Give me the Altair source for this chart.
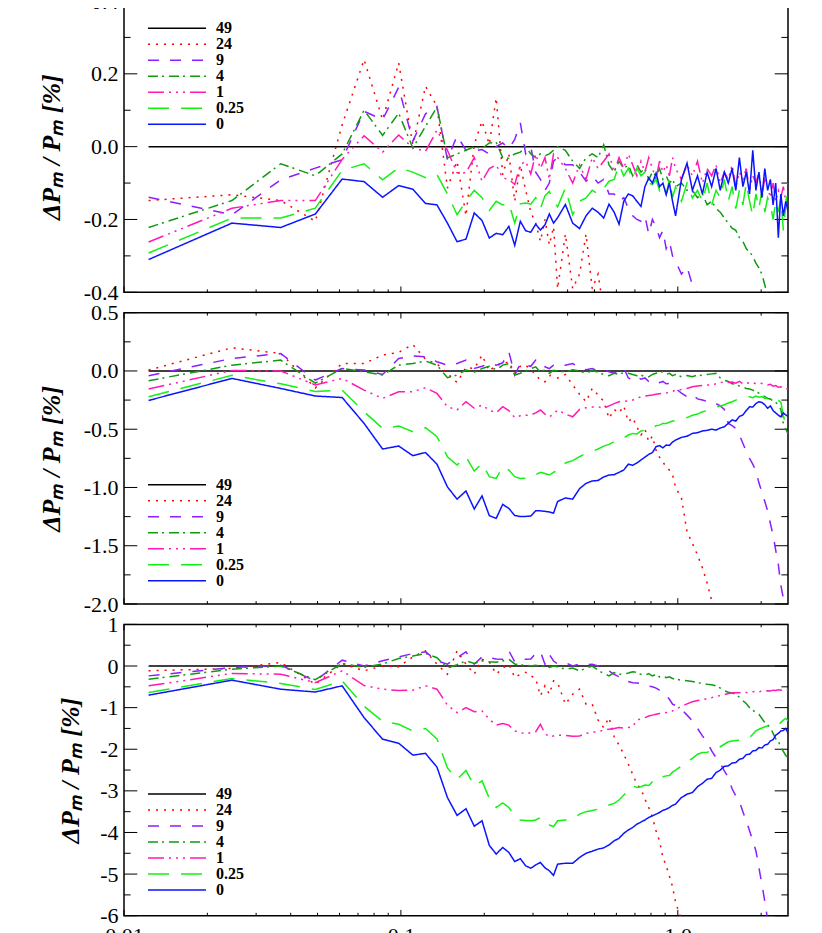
import altair as alt
import pandas as pd

# ---------------- data ----------------
KF = 0.01227  # fundamental wavenumber; x = n * KF
N = list(range(1, 31)) + list(range(32, 81, 2)) + list(range(84, 205, 4))

SERIES = ["49", "24", "9", "4", "1", "0.25", "0"]
COLORS = ["#000000", "#ff0000", "#8c1eff", "#109a10", "#ff1ab4", "#14f014", "#0a14ff"]
DASHES = [[1, 0], [2, 6], [11, 11], [10, 4, 2, 5], [16, 5, 2, 5, 2, 5, 2, 5], [21, 12], [1, 0]]

ZERO_N = [1, 204]
ZERO_V = [0.0, 0.0]

# ---- panel 1 ----
P1_24 = [-0.148, -0.132, -0.148, -0.205, 0.06, 0.239, 0.074, 0.23, 0.005, 0.166,
         0.111, -0.114, -0.04, -0.19, 0.006, 0.07, 0.006, 0.134, -0.077, -0.02,
         -0.15, -0.05, -0.12, -0.18, -0.21, -0.26, -0.20, -0.27, -0.22, -0.39,
         -0.24, -0.39, -0.35, -0.24, -0.39, -0.35, -0.45, -0.6]
P1_9 = [-0.139, -0.187, -0.091, -0.059, -0.036, 0.097, 0.074, 0.163, 0.015, 0.09,
        0.11, -0.036, 0.03, -0.01, -0.012, -0.008, -0.02, 0.0, 0.01, -0.005,
        0.02, 0.065, -0.02, 0.0, -0.07, -0.09, -0.12, -0.10, -0.04, -0.03,
        -0.05, -0.05, -0.07, -0.095, -0.08, -0.10, -0.09, -0.13, -0.13, -0.15,
        -0.14, -0.169, -0.19, -0.20, -0.205, -0.19, -0.24, -0.20, -0.22, -0.25,
        -0.23, -0.28, -0.26, -0.30, -0.315,
        -0.35, -0.33, -0.38, -0.40, -0.43]
P1_4 = [-0.222, -0.148, -0.047, -0.08, -0.02, 0.10, 0.031, 0.092, -0.004, 0.056,
        0.109, -0.031, -0.02, -0.01, 0.0, -0.005, 0.01, 0.012, -0.03, -0.032,
        -0.02, -0.015, 0.0, -0.02, -0.03, -0.02, -0.025, -0.02, -0.01, 0.0,
        -0.01, -0.04, -0.06, -0.03, -0.02, -0.03, 0.005, -0.05, -0.07, -0.04,
        -0.06, -0.05, -0.08, -0.05, -0.07, -0.06, -0.09, -0.07, -0.08, -0.06,
        -0.09, -0.08, -0.10, -0.09, -0.11,
        -0.10, -0.12, -0.12, -0.14, -0.13, -0.16, -0.15, -0.17, -0.18, -0.196,
        -0.21, -0.224, -0.23, -0.25, -0.26, -0.28, -0.29, -0.30, -0.32, -0.333,
        -0.35, -0.38, -0.41, -0.44]
P1_1 = [-0.262, -0.169, -0.148, -0.148, -0.035, 0.03, -0.015, 0.032, -0.003, -0.013,
        0.045, -0.01, -0.072, -0.072, -0.03, -0.095, -0.06, -0.05, -0.086, -0.09,
        -0.104, -0.05, -0.04, -0.075, -0.02, -0.06, -0.03, -0.09, -0.02, -0.03,
        -0.06, -0.10, -0.05, -0.09, -0.03, -0.06, -0.04, -0.02, -0.07, -0.03,
        -0.06, -0.02, -0.05, -0.08, -0.04, -0.07, -0.03, -0.06, -0.09, -0.04,
        -0.07, -0.05, -0.08, -0.03, -0.06,
        -0.09, -0.05, -0.08, -0.04, -0.10, -0.06, -0.08, -0.05, -0.10, -0.07,
        -0.09, -0.05, -0.11, -0.07, -0.09, -0.06, -0.12, -0.08, -0.10, -0.07,
        -0.13, -0.09, -0.11, -0.14, -0.10, -0.15, -0.12, -0.14, -0.11, -0.15,
        -0.13]
P1_025 = [-0.292, -0.196, -0.196, -0.169, -0.065, -0.047, -0.091, -0.058, -0.07, -0.085,
          -0.077, -0.13, -0.187, -0.15, -0.12, -0.14, -0.175, -0.15, -0.16, -0.155,
          -0.21, -0.157, -0.155, -0.158, -0.14, -0.17, -0.135, -0.123, -0.15, -0.165,
          -0.114, -0.187, -0.15, -0.141, -0.12, -0.13, -0.115, -0.095, -0.09, -0.05,
          -0.08, -0.06, -0.09, -0.059, -0.08, -0.07, -0.10, -0.104, -0.09, -0.12,
          -0.10, -0.13, -0.09, -0.14, -0.11,
          -0.15, -0.10, -0.141, -0.12, -0.15, -0.10, -0.16, -0.12, -0.14, -0.09,
          -0.15, -0.11, -0.17, -0.12, -0.16, -0.10, -0.15, -0.19, -0.13, -0.17,
          -0.12, -0.18, -0.14, -0.16, -0.20, -0.15, -0.18, -0.14, -0.23, -0.16,
          -0.10]
P1_0 = [-0.31, -0.21, -0.222, -0.185, -0.089, -0.096, -0.139, -0.107, -0.117, -0.156,
        -0.16, -0.21, -0.261, -0.254, -0.182, -0.203, -0.251, -0.238, -0.242, -0.219,
        -0.271, -0.205, -0.231, -0.235, -0.213, -0.229, -0.215, -0.185, -0.21, -0.195,
        -0.159, -0.21, -0.225, -0.19, -0.169, -0.18, -0.196, -0.158, -0.18, -0.213,
        -0.15, -0.13, -0.135, -0.15, -0.164, -0.11, -0.086, -0.10, -0.073, -0.11,
        -0.10, -0.132, -0.10, -0.15, -0.19,
        -0.09, -0.045, -0.12, -0.08, -0.13, -0.07, -0.11, -0.06, -0.12, -0.07,
        -0.10, -0.06, -0.12, -0.03, -0.11, -0.07, -0.13, -0.01, -0.12, -0.07,
        -0.14, -0.06, -0.12, -0.09, -0.16, -0.10, -0.25, -0.13, -0.19, -0.15,
        -0.18]

# ---- panel 2 ----
P2_24 = [0.008, 0.199, 0.15, -0.145, 0.064, 0.064, 0.136, 0.16, 0.227, 0.10,
         0.06, -0.021, -0.099, 0.03, 0.02, 0.136, 0.0, 0.05, 0.06, 0.08,
         -0.02, 0.04, 0.05, 0.01, -0.03, -0.08, -0.093, -0.05, 0.01, -0.06,
         -0.03, -0.12, -0.20, -0.264, -0.15, -0.207, -0.26, -0.407, -0.33, -0.36,
         -0.30, -0.436, -0.40, -0.48, -0.55, -0.50, -0.607, -0.56, -0.68, -0.74,
         -0.78, -0.83, -0.85, -0.893, -1.0,
         -1.09, -1.38, -1.48, -1.58, -1.69, -1.82, -1.97, -2.1]
P2_9 = [-0.041, 0.107, 0.15, -0.078, 0.021, 0.008, -0.03, 0.107, 0.13, 0.122,
        0.079, 0.05, 0.064, 0.093, 0.021, 0.04, 0.064, 0.05, 0.07, 0.165,
        -0.035, 0.064, 0.05, 0.04, 0.093, 0.085, 0.036, 0.02, 0.05, 0.06,
        0.05, 0.064, 0.03, 0.01, 0.02, 0.0, 0.01, -0.007, -0.02, 0.0,
        0.027, -0.06, -0.078, -0.05, -0.07, -0.06, -0.09, -0.093, -0.08, -0.10,
        -0.09, -0.11, -0.107, -0.13, -0.15,
        -0.19, -0.221, -0.20, -0.24, -0.25, -0.26, -0.264, -0.28, -0.30, -0.33,
        -0.45, -0.47, -0.493, -0.55, -0.62, -0.69, -0.75, -0.80, -0.86, -0.96,
        -1.04, -1.12, -1.20, -1.31, -1.41, -1.54, -1.66, -1.84, -1.95, -2.05]
P2_4 = [-0.084, 0.05, 0.093, -0.105, 0.021, -0.007, -0.035, 0.05, 0.064, 0.085,
        0.05, -0.058, -0.035, 0.008, -0.01, 0.021, 0.04, 0.01, 0.05, 0.064,
        -0.035, -0.02, 0.0, 0.02, 0.036, -0.01, 0.01, -0.02, 0.005, 0.0,
        -0.01, 0.01, 0.0, -0.02, 0.005, -0.01, -0.03, -0.041, -0.02, -0.03,
        -0.013, -0.02, -0.03, -0.04, -0.035, -0.05, -0.05, -0.03, -0.02, -0.01,
        -0.007, -0.03, -0.02, -0.04, -0.03,
        -0.05, -0.04, -0.05, -0.035, -0.04, -0.03, -0.025, -0.021, -0.06, -0.08,
        -0.09, -0.11, -0.115, -0.13, -0.136, -0.15, -0.155, -0.164, -0.18, -0.19,
        -0.207, -0.22, -0.236, -0.24, -0.26, -0.27, -0.29, -0.33, -0.45, -0.50,
        -0.54]
P2_1 = [-0.155, 0.005, 0.0, -0.12, -0.064, -0.164, -0.236, -0.178, -0.178, -0.144,
        -0.193, -0.307, -0.335, -0.264, -0.32, -0.293, -0.335, -0.36, -0.307, -0.34,
        -0.40, -0.384, -0.38, -0.378, -0.36, -0.335, -0.37, -0.393, -0.37, -0.335,
        -0.37, -0.393, -0.33, -0.316, -0.31, -0.307, -0.32, -0.30, -0.28, -0.264,
        -0.26, -0.258, -0.25, -0.235, -0.221, -0.215, -0.21, -0.207, -0.20, -0.195,
        -0.193, -0.19, -0.18, -0.175, -0.165,
        -0.16, -0.15, -0.136, -0.13, -0.125, -0.12, -0.121, -0.11, -0.10, -0.093,
        -0.10, -0.095, -0.105, -0.09, -0.11, -0.10, -0.107, -0.10, -0.11, -0.105,
        -0.107, -0.11, -0.12, -0.115, -0.13, -0.125, -0.14, -0.135, -0.15, -0.145,
        -0.16]
P2_025 = [-0.221, -0.038, -0.11, -0.176, -0.165, -0.35, -0.493, -0.473, -0.521, -0.487,
          -0.564, -0.736, -0.807, -0.736, -0.859, -0.793, -0.907, -0.922, -0.822, -0.85,
          -0.907, -0.922, -0.92, -0.916, -0.89, -0.87, -0.88, -0.893, -0.87, -0.85,
          -0.79, -0.77, -0.736, -0.707, -0.69, -0.67, -0.645, -0.63, -0.607, -0.60,
          -0.575, -0.55, -0.536, -0.54, -0.515, -0.51, -0.507, -0.49, -0.47, -0.465,
          -0.45, -0.45, -0.44, -0.43, -0.425,
          -0.41, -0.40, -0.38, -0.37, -0.35, -0.34, -0.32, -0.31, -0.30, -0.29,
          -0.275, -0.264, -0.25, -0.24, -0.235, -0.225, -0.221, -0.23, -0.215, -0.225,
          -0.22, -0.236, -0.23, -0.24, -0.225, -0.24, -0.25, -0.27, -0.38, -0.47,
          -0.50]
P2_0 = [-0.253, -0.064, -0.15, -0.215, -0.228, -0.45, -0.67, -0.644, -0.727, -0.70,
        -0.80, -0.995, -1.10, -1.03, -1.185, -1.072, -1.242, -1.265, -1.145, -1.18,
        -1.24, -1.25, -1.248, -1.245, -1.20, -1.20, -1.205, -1.21, -1.22, -1.12,
        -1.09, -1.10, -1.01, -0.965, -0.944, -0.94, -0.91, -0.893, -0.89, -0.87,
        -0.85, -0.80, -0.81, -0.79, -0.764, -0.74, -0.716, -0.70, -0.65, -0.64,
        -0.66, -0.635, -0.64, -0.61, -0.593,
        -0.57, -0.56, -0.536, -0.53, -0.515, -0.51, -0.50, -0.507, -0.49, -0.479,
        -0.45, -0.42, -0.43, -0.39, -0.378, -0.34, -0.307, -0.31, -0.28, -0.264,
        -0.27, -0.29, -0.32, -0.30, -0.34, -0.36, -0.38, -0.393, -0.36, -0.378,
        -0.39]

# ---- panel 3 ----
P3_24 = [-0.115, -0.06, 0.084, -0.437, 0.06, -0.115, 0.0, -0.02, 0.22, 0.365,
         0.044, -0.197, 0.365, 0.044, -0.197, 0.16, 0.10, -0.197, -0.05, 0.044,
         -0.276, -0.20, -0.15, -0.236, -0.30, -0.716, -0.476, -0.677, -0.356, -0.40,
         -0.917, -0.677, -0.557, -0.917, -0.917, -1.30, -1.48, -1.24, -1.70, -1.90,
         -2.12, -2.36, -2.60, -2.84, -2.95, -3.20, -3.40, -3.64, -3.96, -4.20,
         -4.60, -4.80, -5.05, -5.30, -5.68,
         -6.1]
P3_9 = [-0.237, -0.036, 0.02, -0.36, 0.14, 0.0, 0.125, 0.22, 0.30, 0.34,
        0.125, 0.044, 0.20, 0.34, 0.044, 0.22, 0.20, 0.17, 0.163, 0.365,
        0.10, 0.163, 0.16, 0.17, 0.30, 0.35, 0.044, 0.28, 0.12, 0.05,
        0.08, 0.0, 0.05, 0.03, 0.044, 0.0, -0.06, -0.12, -0.20, -0.26,
        -0.356, -0.37, -0.40, -0.41, -0.42, -0.44, -0.48, -0.50, -0.53, -0.58,
        -0.63, -0.70, -0.80, -0.917, -0.95,
        -1.04, -1.18, -1.32, -1.50, -1.68, -1.82, -2.04, -2.20, -2.34, -2.52,
        -2.68, -2.95, -3.12, -3.26, -3.50, -3.72, -3.96, -4.20, -4.44, -4.84,
        -5.25, -5.65, -6.1]
P3_4 = [-0.317, -0.077, 0.0, -0.33, 0.06, -0.03, 0.05, 0.18, 0.24, 0.30,
        0.20, -0.05, 0.03, 0.125, 0.06, 0.125, 0.10, 0.09, 0.12, 0.163,
        0.05, 0.02, 0.03, 0.0, 0.02, -0.01, 0.01, -0.036, 0.0, -0.02,
        -0.077, -0.05, -0.115, -0.05, 0.0, -0.10, -0.18, -0.236, -0.16, -0.20,
        -0.197, -0.17, -0.14, -0.156, -0.20, -0.22, -0.18, -0.24, -0.20, -0.26,
        -0.24, -0.28, -0.26, -0.30, -0.317,
        -0.34, -0.356, -0.37, -0.40, -0.42, -0.437, -0.45, -0.476, -0.53, -0.596,
        -0.63, -0.65, -0.677, -0.75, -0.836, -0.90, -1.0, -1.06, -1.12, -1.16,
        -1.26, -1.36, -1.42, -1.48, -1.62, -1.75, -1.80, -1.96, -2.05, -2.15,
        -2.2]
P3_1 = [-0.476, -0.18, -0.197, -0.40, -0.115, -0.47, -0.557, -0.59, -0.58, -0.476,
        -0.557, -0.94, -1.12, -1.0, -1.10, -1.08, -1.28, -1.42, -1.38, -1.42,
        -1.56, -1.60, -1.63, -1.60, -1.58, -1.40, -1.62, -1.70, -1.68, -1.66,
        -1.67, -1.69, -1.68, -1.62, -1.59, -1.58, -1.54, -1.52, -1.50, -1.48,
        -1.49, -1.48, -1.46, -1.30, -1.27, -1.24, -1.20, -1.18, -1.16, -1.14,
        -1.13, -1.12, -1.12, -1.08, -1.04,
        -0.97, -0.91, -0.86, -0.83, -0.81, -0.78, -0.76, -0.73, -0.71, -0.69,
        -0.66, -0.64, -0.645, -0.64, -0.63, -0.635, -0.637, -0.62, -0.61, -0.62,
        -0.60, -0.61, -0.596, -0.60, -0.58, -0.59, -0.572, -0.58, -0.56, -0.57,
        -0.57]
P3_025 = [-0.637, -0.30, -0.42, -0.565, -0.356, -0.965, -1.33, -1.40, -1.56, -1.50,
          -1.75, -2.45, -2.72, -2.51, -2.88, -2.76, -3.18, -3.40, -3.29, -3.40,
          -3.60, -3.70, -3.71, -3.72, -3.70, -3.64, -3.76, -3.82, -3.86, -3.72,
          -3.70, -3.68, -3.56, -3.50, -3.47, -3.44, -3.40, -3.34, -3.30, -3.22,
          -3.10, -3.00, -2.88, -2.92, -2.90, -2.86, -2.87, -2.78, -2.70, -2.64,
          -2.66, -2.64, -2.63, -2.55, -2.50,
          -2.40, -2.30, -2.22, -2.12, -2.08, -2.07, -2.05, -2.00, -1.94, -1.88,
          -1.82, -1.80, -1.79, -1.78, -1.76, -1.74, -1.72, -1.64, -1.56, -1.52,
          -1.49, -1.46, -1.44, -1.43, -1.42, -1.41, -1.40, -1.36, -1.30, -1.26,
          -1.32]
P3_0 = [-0.70, -0.34, -0.557, -0.625, -0.476, -1.24, -1.76, -1.855, -2.14, -2.10,
        -2.43, -3.16, -3.59, -3.43, -3.85, -3.72, -4.31, -4.52, -4.36, -4.48,
        -4.70, -4.63, -4.80, -4.86, -4.78, -4.72, -4.85, -4.92, -5.03, -4.76,
        -4.74, -4.74, -4.60, -4.50, -4.45, -4.40, -4.37, -4.30, -4.20, -4.14,
        -4.02, -3.94, -3.88, -3.80, -3.75, -3.70, -3.64, -3.60, -3.56, -3.52,
        -3.47, -3.44, -3.40, -3.35, -3.32,
        -3.16, -3.08, -3.04, -2.90, -2.82, -2.72, -2.70, -2.56, -2.50, -2.41,
        -2.40, -2.33, -2.32, -2.24, -2.22, -2.13, -2.12, -2.04, -2.03, -1.96,
        -1.97, -1.90, -1.88, -1.80, -1.77, -1.66, -1.62, -1.56, -1.55, -1.50,
        -1.62]

# ---- tick positions ----
XMAJ = [0.01, 0.1, 1.0]
XMIN = [0.02, 0.03, 0.04, 0.05, 0.06, 0.07, 0.08, 0.09,
        0.2, 0.3, 0.4, 0.5, 0.6, 0.7, 0.8, 0.9, 2.0]

Y1M = [-0.4, -0.2, 0.0, 0.2, 0.4]
Y1m = [-0.3, -0.1, 0.1, 0.3]
Y2M = [-2.0, -1.5, -1.0, -0.5, 0.0, 0.5]
Y2m = [-1.75, -1.25, -0.75, -0.25, 0.25]
Y3M = [-6, -5, -4, -3, -2, -1, 0, 1]
Y3m = [-5.5, -4.5, -3.5, -2.5, -1.5, -0.5, 0.5]

YTITLE = "ΔPₘ / Pₘ  [%]"
SERIF = "Liberation Serif"
W = 664
H = 291.3
XTICK = (5.8, 2.9)    # major, minor length (px)
YTICK = (13.3, 6.6)


def build_df(d):
    rows = []
    for n, v in zip(ZERO_N, ZERO_V):
        rows.append({"k": n * KF, "v": v, "s": "49"})
    for s in SERIES[1:]:
        for n, v in zip(N, d[s]):
            rows.append({"k": n * KF, "v": v, "s": s})
    return pd.DataFrame(rows)


def tick_layers(xs, ys, ymaj, ymin):
    layers = []
    for vals, L in ((XMAJ, XTICK[0]), (XMIN, XTICK[1])):
        base = alt.Chart(pd.DataFrame({"t": vals})).mark_rule(color="black", strokeWidth=1)
        xenc = alt.X("t:Q", scale=xs, axis=None)
        layers.append(base.encode(x=xenc, y=alt.value(0), y2=alt.value(L)))
        layers.append(base.encode(x=xenc, y=alt.value(H), y2=alt.value(H - L)))
    for vals, L in ((ymaj, YTICK[0]), (ymin, YTICK[1])):
        base = alt.Chart(pd.DataFrame({"t": vals})).mark_rule(color="black", strokeWidth=1)
        yenc = alt.Y("t:Q", scale=ys, axis=None)
        layers.append(base.encode(y=yenc, x=alt.value(0), x2=alt.value(L)))
        layers.append(base.encode(y=yenc, x=alt.value(W), x2=alt.value(W - L)))
    return layers


def make_panel(vals, ydom, ymaj, ymin, yfmt, title_x, legend_y, bottom_labels):
    df = build_df(vals)
    xs = alt.Scale(type="log", domain=[0.01, 2.5], nice=False)
    ys = alt.Scale(domain=ydom, nice=False, zero=False)

    if bottom_labels:
        xax = alt.Axis(orient="bottom", values=XMAJ, ticks=False, domain=False,
                       labelExpr="datum.value < 0.05 ? '0.01' : (datum.value < 0.5 ? '0.1' : '1.0')",
                       labelPadding=10, labelFlush=False, labelOverlap=False, title=None)
    else:
        xax = None
    yax = alt.Axis(orient="left", values=ymaj, ticks=False, domain=False,
                   labelExpr=f"(datum.value < 0 ? '-' : '') + format(abs(datum.value), '{yfmt}')",
                   labelPadding=6, labelFlush=False, labelOverlap=False,
                   title=YTITLE, titleX=title_x, titleY=H / 2, titleAngle=270,
                   titleAlign="center", titleBaseline="middle", titleFont=SERIF,
                   titleFontSize=26, titleFontWeight="bold", titleFontStyle="italic")

    leg = alt.Legend(orient="none", legendX=23, legendY=legend_y, title=None,
                     symbolType="stroke", symbolSize=3364, symbolStrokeWidth=1.5,
                     labelFont=SERIF, labelFontSize=16, labelFontWeight="bold",
                     labelColor="black", labelOffset=9, clipHeight=15.3,
                     rowPadding=-2.5, padding=0)

    lines = alt.Chart(df).mark_line(clip=True, strokeWidth=1.5).encode(
        x=alt.X("k:Q", scale=xs, axis=xax),
        y=alt.Y("v:Q", scale=ys, axis=yax),
        color=alt.Color("s:N", scale=alt.Scale(domain=SERIES, range=COLORS), legend=leg),
        strokeDash=alt.StrokeDash("s:N", scale=alt.Scale(domain=SERIES, range=DASHES), legend=leg),
    )

    return alt.layer(*tick_layers(xs, ys, ymaj, ymin), lines).resolve_axis(
        x="independent", y="independent"
    ).properties(width=W, height=H)


p1 = make_panel({"24": P1_24, "9": P1_9, "4": P1_4, "1": P1_1, "0.25": P1_025, "0": P1_0},
                [-0.4, 0.4], Y1M, Y1m, ".1f", -73, 19.5, False)
p2 = make_panel({"24": P2_24, "9": P2_9, "4": P2_4, "1": P2_1, "0.25": P2_025, "0": P2_0},
                [-2.0, 0.5], Y2M, Y2m, ".1f", -73, 164.35, False)
p3 = make_panel({"24": P3_24, "9": P3_9, "4": P3_4, "1": P3_1, "0.25": P3_025, "0": P3_0},
                [-6, 1], Y3M, Y3m, "d", -54, 162, True)

chart = alt.vconcat(p1, p2, p3, spacing=19.7, bounds="flush").resolve_scale(
    color="independent", strokeDash="independent"
).properties(
    padding={"left": 29, "top": -19, "right": 8, "bottom": 0}
).configure_view(
    stroke="black", strokeWidth=1.5
).configure_axis(
    grid=False, labelFont=SERIF, labelFontSize=22, labelColor="black", titleColor="black"
)

chart.save("out.html", embed_options={"renderer": "svg", "actions": False})
